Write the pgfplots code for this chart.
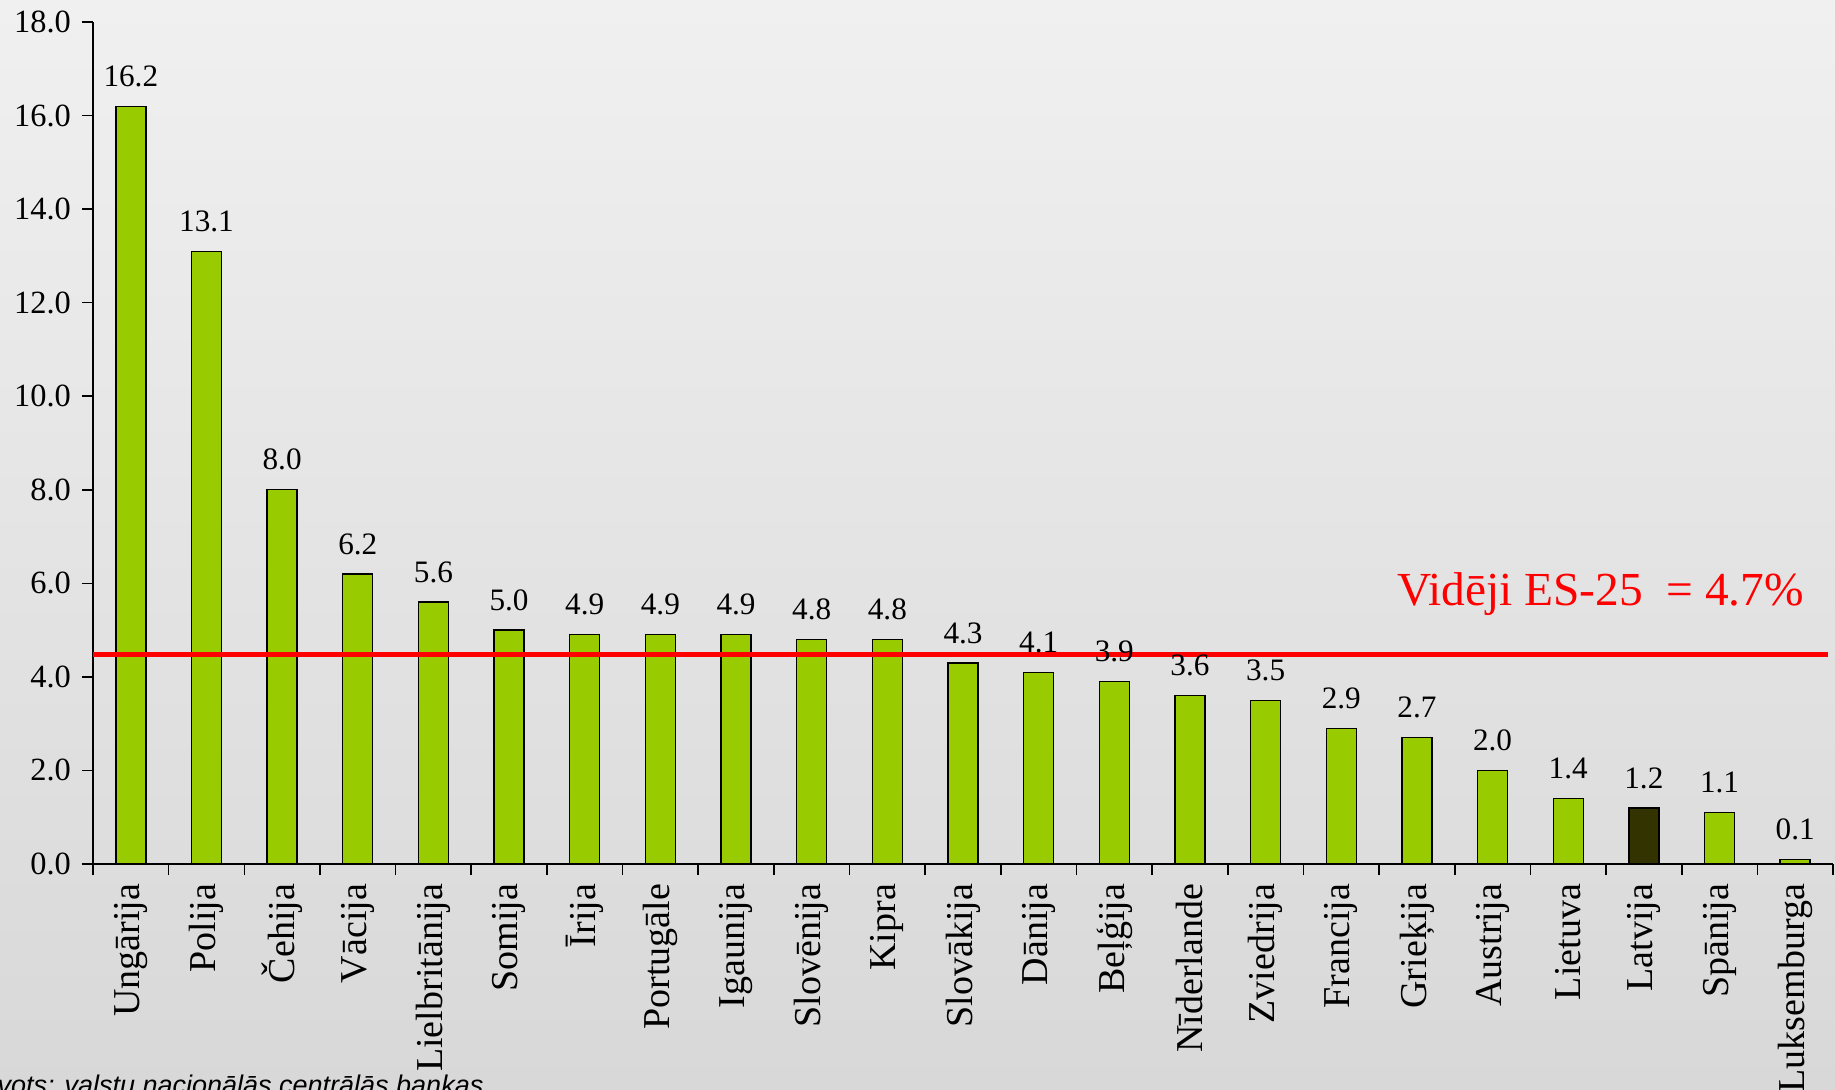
\documentclass[border=0pt]{standalone}
\usepackage{fontspec}
\setmainfont{Liberation Serif}
\newfontfamily\arialfont{Liberation Sans}
\usepackage{pgfplots}
\pgfplotsset{compat=1.18}
\definecolor{bargreen}{HTML}{99CC00}
\definecolor{bardark}{HTML}{333300}
\definecolor{bgtop}{HTML}{F0F0F0}
\definecolor{bgbot}{HTML}{D8D8D8}
\begin{document}
\begin{tikzpicture}
\shade[top color=bgtop, bottom color=bgbot] (0,0) rectangle (917.5pt,544.5pt);
\path[use as bounding box] (0,0) rectangle (917.5pt,544.5pt);
\begin{axis}[
  at={(46.5pt,112.5pt)}, anchor=south west,
  scale only axis, width=870pt, height=421pt,
  xmin=-0.5, xmax=22.5, ymin=0, ymax=18,
  axis lines=left, axis line style={-, line width=0.8pt, black},
  ytick={0,2,...,18},
  xtick={-0.5,0.5,1.5,2.5,3.5,4.5,5.5,6.5,7.5,8.5,9.5,10.5,11.5,12.5,13.5,14.5,15.5,16.5,17.5,18.5,19.5,20.5,21.5,22.5},
  xticklabels={},
  tick align=outside, major tick length=5.5pt,
  tick style={line width=0.8pt, black},
  extra x ticks={0,1,2,3,4,5,6,7,8,9,10,11,12,13,14,15,16,17,18,19,20,21,22},
  extra x tick labels={Ungārija,Polija,Čehija,Vācija,Lielbritānija,Somija,Īrija,Portugāle,Igaunija,Slovēnija,Kipra,Slovākija,Dānija,Beļģija,Nīderlande,Zviedrija,Francija,Grieķija,Austrija,Lietuva,Latvija,Spānija,Luksemburga},
  extra x tick style={major tick length=0pt, tick style={draw=none},
     tick label style={rotate=90, anchor=east, inner xsep=9.8pt, font=\fontsize{19}{22}\selectfont}},
  yticklabel style={font=\fontsize{16.2}{19}\selectfont, xshift=-2pt},
  /pgf/number format/fixed, /pgf/number format/fixed zerofill,
  /pgf/number format/precision=1, /pgf/number format/assume math mode=true,
  clip=false,
]
\addplot[ybar, bar width=15pt, bar shift=0pt, fill=bargreen, draw=black, line width=0.7pt,
  nodes near coords,
  every node near coord/.append style={font=\fontsize{15.6}{18}\selectfont, yshift=6pt, text=black}]
  coordinates {(0,16.2) (1,13.1) (2,8.0) (3,6.2) (4,5.6) (5,5.0) (6,4.9) (7,4.9) (8,4.9) (9,4.8) (10,4.8) (11,4.3) (12,4.1) (13,3.9) (14,3.6) (15,3.5) (16,2.9) (17,2.7) (18,2.0) (19,1.4) (21,1.1) (22,0.1)};
\addplot[ybar, bar width=15pt, bar shift=0pt, fill=bardark, draw=black, line width=0.7pt,
  nodes near coords,
  every node near coord/.append style={font=\fontsize{15.6}{18}\selectfont, yshift=6pt, text=black}]
  coordinates {(20,1.2)};
\addplot[red, line width=2.5pt, no marks] coordinates {(-0.5,4.48) (22.43,4.48)};
\node[red, anchor=base east, font=\fontsize{23.7}{28}\selectfont] at (axis cs:22.21,5.52) {Vidēji ES-25\ \ = 4.7\%};
\end{axis}
\node[anchor=base west, font=\arialfont\itshape\fontsize{13.5}{16}\selectfont] at (-13.5pt,-2.5pt) {Avots: valstu nacionālās centrālās bankas};
\end{tikzpicture}
\end{document}
